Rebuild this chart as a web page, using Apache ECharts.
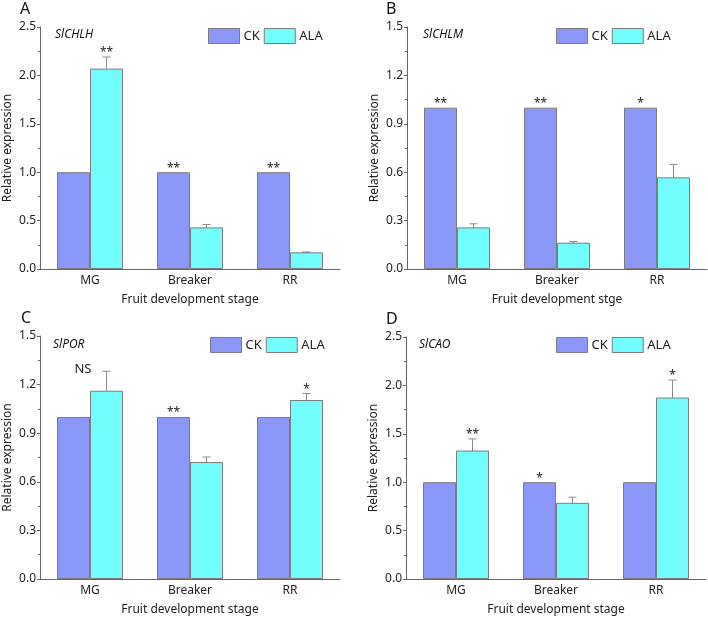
<!DOCTYPE html>
<html>
<head>
<meta charset="utf-8">
<script src="https://cdn.jsdelivr.net/npm/echarts@6/dist/echarts.min.js"></script>
<style>html,body{margin:0;padding:0;background:#fff}#c{width:708px;height:617px}</style>
</head>
<body>
<div id="c"></div>
<script>
const categories = ['MG', 'Breaker', 'RR'];
const seriesNames = ['CK', 'ALA'];

const ckA = [1, 1, 1];
const alaA = [2.07, 0.43, 0.172];
const errA = [0.12, 0.03, 0.004];
const sigA = ['**', '**', '**'];
const sigOnA = ['ALA', 'CK', 'CK'];

const ckB = [1, 1, 1];
const alaB = [0.258, 0.163, 0.568];
const errB = [0.022, 0.007, 0.08];
const sigB = ['**', '**', '*'];
const sigOnB = ['CK', 'CK', 'CK'];

const ckC = [1, 1, 1];
const alaC = [1.162, 0.722, 1.105];
const errC = [0.12, 0.031, 0.04];
const sigC = ['NS', '**', '*'];
const sigOnC = ['MID', 'CK', 'ALA'];

const ckD = [1, 1, 1];
const alaD = [1.327, 0.787, 1.875];
const errD = [0.12, 0.058, 0.18];
const sigD = ['**', '*', '*'];
const sigOnD = ['ALA', 'CK', 'ALA'];

const yMax = [2.5, 1.5, 1.5, 2.5];
const yStep = [0.5, 0.3, 0.3, 0.5];
const geneNames = ['SlCHLH', 'SlCHLM', 'SlPOR', 'SlCAO'];
const panelLetters = ['A', 'B', 'C', 'D'];
const xNames = ['Fruit development stage', 'Fruit development stge', 'Fruit development stage', 'Fruit development stage'];

const panels = [
  {ck: ckA, ala: alaA, err: errA, sig: sigA, on: sigOnA},
  {ck: ckB, ala: alaB, err: errB, sig: sigB, on: sigOnB},
  {ck: ckC, ala: alaC, err: errC, sig: sigC, on: sigOnC},
  {ck: ckD, ala: alaD, err: errD, sig: sigD, on: sigOnD}
];

const FONT = '"Noto Sans", "Open Sans", sans-serif';
const CK_COLOR = '#8b98f9';
const ALA_COLOR = '#72fefe';
const EDGE = '#7c7c7c';
const AXIS = '#666';
const OFF = 0.165; // half bar width as a fraction of the band

const grids = [
  {left: 40, right: 368, top: 27, bottom: 348},
  {left: 407, right: 1, top: 27, bottom: 348},
  {left: 40, right: 368, top: 336, bottom: 38},
  {left: 406, right: 2, top: 337, bottom: 38}
];
const legendPos = [
  {left: 208, top: 28},
  {left: 556, top: 28},
  {left: 210, top: 337},
  {left: 556, top: 337}
];
const letterPos = [[20, 1], [386, 1], [21, 310], [386, 311]];
const genePos = [[55, 29], [423, 29], [53, 339], [419, 339]];

const xAxis = [], yAxis = [], series = [], legend = [], graphic = [];

panels.forEach((p, i) => {
  xAxis.push({
    type: 'category', gridIndex: i, data: categories,
    name: xNames[i], nameLocation: 'middle', nameGap: 25,
    nameTextStyle: {fontFamily: FONT, fontSize: 12, color: '#222'},
    axisLine: {lineStyle: {color: AXIS, width: 1}},
    axisTick: {show: false},
    axisLabel: {fontFamily: FONT, fontSize: 12, color: '#222', margin: 6}
  });
  yAxis.push({
    type: 'value', gridIndex: i, min: 0, max: yMax[i], interval: yStep[i],
    name: 'Relative expression', nameLocation: 'middle', nameGap: 26,
    nameTextStyle: {fontFamily: FONT, fontSize: 12, color: '#222'},
    axisLine: {show: true, lineStyle: {color: AXIS, width: 1}},
    axisTick: {show: true, inside: false, length: 3, lineStyle: {color: AXIS}},
    minorTick: {show: true, splitNumber: 2, length: 2, lineStyle: {color: AXIS}},
    splitLine: {show: false},
    axisLabel: {fontFamily: FONT, fontSize: 12, color: '#222', margin: 4,
      formatter: v => v.toFixed(1)}
  });
  series.push({
    type: 'bar', name: 'CK', xAxisIndex: i, yAxisIndex: i, data: p.ck,
    barGap: '0%', barCategoryGap: '34%',
    itemStyle: {color: CK_COLOR, borderColor: EDGE, borderWidth: 1}
  });
  series.push({
    type: 'bar', name: 'ALA', xAxisIndex: i, yAxisIndex: i, data: p.ala,
    barGap: '0%', barCategoryGap: '34%',
    itemStyle: {color: ALA_COLOR, borderColor: EDGE, borderWidth: 1}
  });
  // error bars on ALA
  series.push({
    type: 'custom', xAxisIndex: i, yAxisIndex: i, clip: false, silent: true,
    data: p.ala.map((v, k) => [k, v, p.err[k]]),
    renderItem: (params, api) => {
      const k = api.value(0), v = api.value(1), e = api.value(2);
      const band = api.size([1, 0])[0];
      const x = api.coord([k, v])[0] + band * OFF;
      const yt = api.coord([k, v + e])[1];
      const yb = api.coord([k, v - e])[1];
      const st = {stroke: '#8a8a8a', lineWidth: 1};
      return {type: 'group', children: [
        {type: 'line', shape: {x1: x, y1: yt, x2: x, y2: yb}, style: st},
        {type: 'line', shape: {x1: x - 4, y1: yt, x2: x + 4, y2: yt}, style: st},
        {type: 'line', shape: {x1: x - 4, y1: yb, x2: x + 4, y2: yb}, style: st}
      ]};
    }
  });
  // significance marks
  series.push({
    type: 'custom', xAxisIndex: i, yAxisIndex: i, clip: false, silent: true,
    data: p.sig.map((s, k) => {
      const on = p.on[k];
      const top = on === 'CK' ? p.ck[k] : (on === 'ALA' ? p.ala[k] + p.err[k] : p.ala[k] + p.err[k]);
      return [k, top];
    }),
    renderItem: (params, api) => {
      const k = api.value(0), top = api.value(1);
      const idx = params.dataIndex;
      const on = p.on[idx];
      const band = api.size([1, 0])[0];
      const frac = on === 'CK' ? -OFF : (on === 'ALA' ? OFF : -0.07);
      const c = api.coord([k, top]);
      const isNS = on === 'MID';
      return {type: 'text', style: {
        text: p.sig[idx], x: c[0] + band * frac, y: isNS ? c[1] - 2 : c[1] + 2,
        textAlign: 'center', textVerticalAlign: isNS ? 'middle' : 'bottom',
        fill: '#222', font: (isNS ? '13px ' : '12px ') + FONT
      }};
    }
  });
  legend.push({
    data: seriesNames, left: legendPos[i].left, top: legendPos[i].top,
    orient: 'horizontal', icon: 'rect', itemWidth: 31, itemHeight: 15,
    itemGap: 4, selectedMode: false, padding: 0,
    textStyle: {fontFamily: FONT, fontSize: 13, color: '#222', padding: [0, 0, 0, -1]},
    itemStyle: {borderColor: EDGE, borderWidth: 1}
  });
  graphic.push({
    type: 'text', left: letterPos[i][0], top: letterPos[i][1],
    style: {text: panelLetters[i], font: '16px ' + FONT, fill: '#111'}
  });
  graphic.push({
    type: 'text', left: genePos[i][0], top: genePos[i][1],
    style: {text: geneNames[i], font: 'italic 12px ' + FONT, fill: '#111'}
  });
});

const chart = echarts.init(document.getElementById('c'), null, {renderer: 'canvas'});
chart.setOption({
  animation: false,
  backgroundColor: '#fff',
  grid: grids,
  xAxis: xAxis,
  yAxis: yAxis,
  legend: legend,
  series: series,
  graphic: graphic
});
</script>
</body>
</html>
